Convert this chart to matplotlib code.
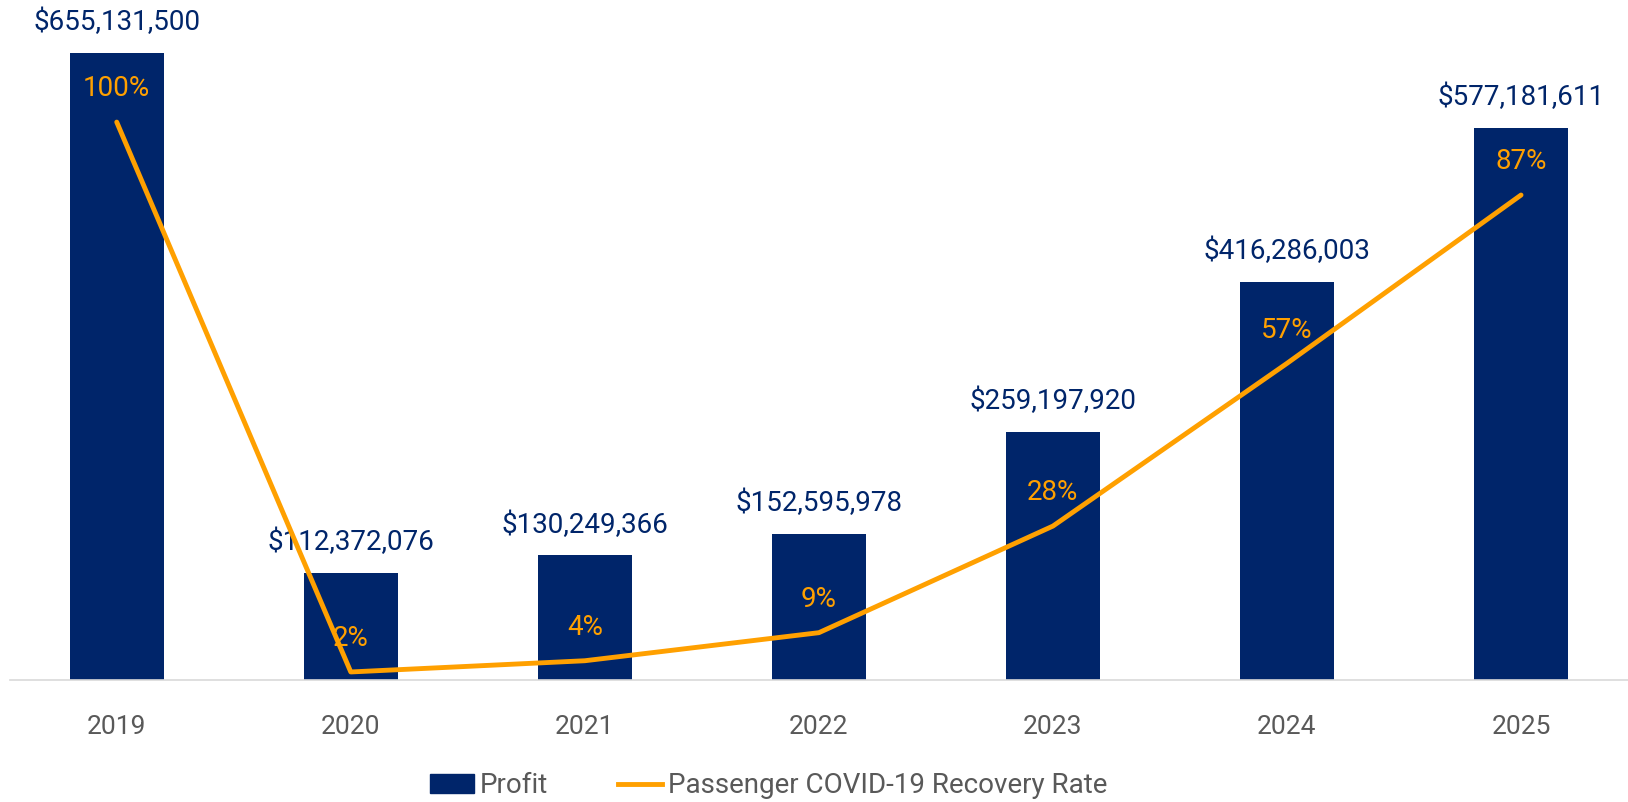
import matplotlib.pyplot as plt
from matplotlib.lines import Line2D
from matplotlib.patches import Patch

years = ["2019", "2020", "2021", "2022", "2023", "2024", "2025"]
profit = [655131500, 112372076, 130249366, 152595978, 259197920, 416286003, 577181611]
recovery = [100, 2, 4, 9, 28, 57, 87]

navy = "#00256A"
orange = "#FFA000"
gray = "#595959"

plt.rcParams['font.family'] = ['Roboto', 'DejaVu Sans']

fig = plt.figure(figsize=(16.28, 8.02), dpi=100)
ax = fig.add_axes([0.006, 0.152, 0.994, 0.835])
xs = list(range(len(years)))

ax.bar(xs, profit, width=0.4, color=navy, zorder=2)
ax.set_xlim(-0.457, 6.457)
ax.set_ylim(0, 700e6)
for x, v in zip(xs, profit):
    ax.annotate("${:,}".format(v), (x, v), xytext=(0, 22), textcoords="offset points",
                ha="center", va="center", fontsize=20, color=navy)

ax.set_xticks(xs)
ax.set_xticklabels(years, fontsize=19, color=gray)
ax.tick_params(axis="x", length=0, pad=25)
ax.set_yticks([])
for s in ["top", "left", "right"]:
    ax.spines[s].set_visible(False)
ax.spines["bottom"].set_color("#D9D9D9")
ax.spines["bottom"].set_linewidth(1.2)

ax2 = ax.twinx()
ax2.plot(xs, recovery, color=orange, linewidth=3.5, solid_capstyle="round", zorder=3)
ax2.set_ylim(0.55, 119.9)
ax2.set_yticks([])
for s in ["top", "left", "right", "bottom"]:
    ax2.spines[s].set_visible(False)
for x, v in zip(xs, recovery):
    ax2.annotate("{}%".format(v), (x, v), xytext=(0, 24), textcoords="offset points",
                 ha="center", va="center", fontsize=20, color=orange)

handles = [Patch(color=navy, label="Profit"),
           Line2D([0], [0], color=orange, linewidth=3.5, label="Passenger COVID-19 Recovery Rate")]
leg = fig.legend(handles=handles, loc="center", bbox_to_anchor=(0.472, 0.02), ncol=2,
                 frameon=False, fontsize=20, handlelength=1.6, handletextpad=0.2,
                 columnspacing=2.5)
for t in leg.get_texts():
    t.set_color(gray)

fig.savefig("out.png", dpi=100)
